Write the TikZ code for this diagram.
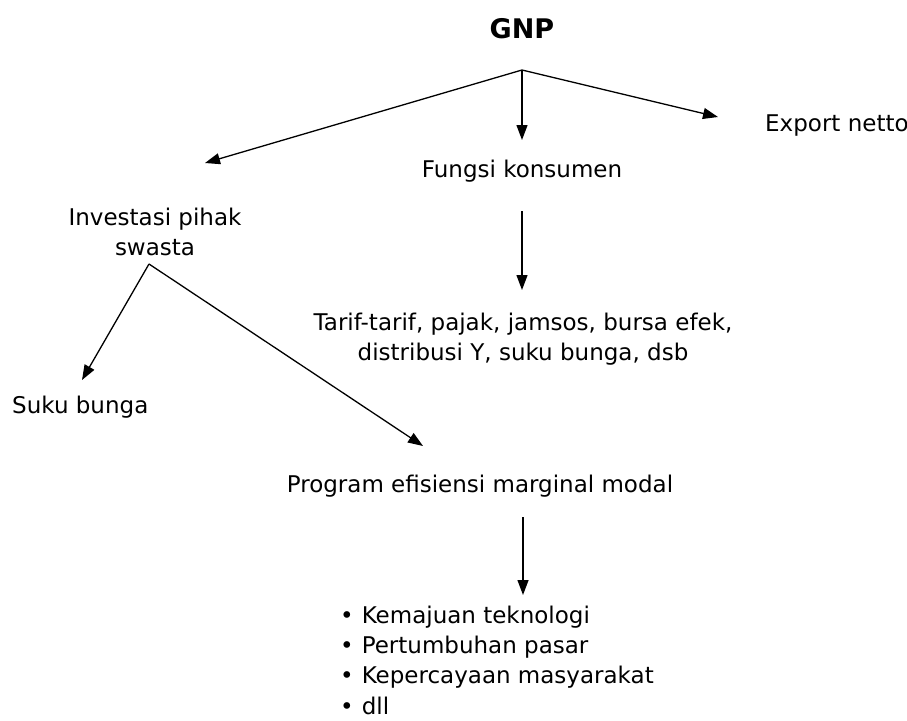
\documentclass[tikz,border=0pt]{standalone}
\usepackage{fontspec}
\setmainfont{DejaVu Sans}
\usetikzlibrary{arrows.meta}
\begin{document}
\begin{tikzpicture}[x=1pt,y=-1pt,
  lbl/.style={inner sep=0pt,font=\fontsize{23}{29.5}\selectfont,align=center},
  arr/.style={-{Triangle[length=15pt,width=11pt]},line width=1.3pt}]
\useasboundingbox (0,0) rectangle (907,720);
\node[lbl,anchor=base,font=\fontsize{27}{30}\bfseries\selectfont] (gnp) at (522,38) {GNP};
\coordinate (o) at (522,70);
\node[lbl,anchor=base west] (exp) at (765,131) {Export netto};
\node[lbl,anchor=base] (fk) at (522,177) {Fungsi konsumen};
\node[lbl,anchor=base] (inv) at (155,255) {Investasi pihak\\swasta};
\node[lbl,anchor=base,font=\fontsize{23}{30}\selectfont] (tarif) at (523,360) {Tarif-tarif, pajak, jamsos, bursa efek,\\distribusi Y, suku bunga, dsb};
\node[lbl,anchor=base west] (suku) at (12,413) {Suku bunga};
\node[lbl,anchor=base] (prog) at (480,492) {Program efisiensi marginal modal};
\node[lbl,anchor=base west,align=left,font=\fontsize{23}{30.3}\selectfont] (list) at (340,714) {%
  \textbullet\hspace{8pt}Kemajuan teknologi\\
  \textbullet\hspace{8pt}Pertumbuhan pasar\\
  \textbullet\hspace{8pt}Kepercayaan masyarakat\\
  \textbullet\hspace{8pt}dll};
\coordinate (t1) at (205,163);
\coordinate (t2) at (522,140);
\coordinate (t3) at (718,117);
\draw[arr] (o) -- (t1);
\draw[arr] (o) -- (t2);
\draw[arr] (o) -- (t3);
\coordinate (f1) at (522,211);
\coordinate (f2) at (522,290);
\draw[arr] (f1) -- (f2);
\coordinate (i0) at (149,264);
\coordinate (s1) at (82,380);
\coordinate (p1) at (423,446);
\draw[arr] (i0) -- (s1);
\draw[arr] (i0) -- (p1);
\coordinate (g1) at (523,517);
\coordinate (g2) at (523,595);
\draw[arr] (g1) -- (g2);
\end{tikzpicture}
\end{document}
